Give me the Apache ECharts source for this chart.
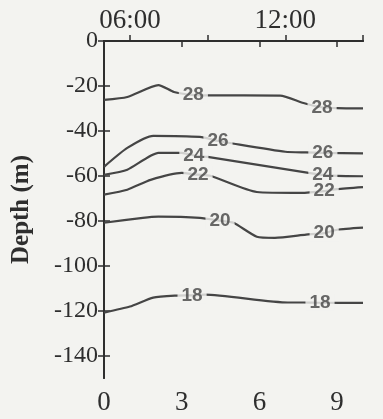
<!DOCTYPE html>
<html>
<head>
<meta charset="utf-8">
<script src="https://cdn.jsdelivr.net/npm/echarts@6/dist/echarts.min.js"></script>
<style>
html,body{margin:0;padding:0;background:#f3f3f0;}
#c{width:383px;height:419px;}
</style>
</head>
<body>
<div id="c"></div>
<script>
// Isotherm names (°C)
const isoNames = ['28', '26', '24', '22', '20', '18'];
// Each isotherm: [time index, depth (m)]
const iso28 = [[0,-26.2],[0.9,-24.9],[2.1,-19.6],[2.7,-22.7],[3.4,-24],[4,-24.2],[6.8,-24.3],[7.7,-27.6],[8.4,-29.5],[9,-29.9],[10,-30]];
const iso26 = [[0,-56],[0.9,-47.6],[1.9,-42.2],[3.7,-42.7],[4.4,-44.5],[4.8,-45.3],[7.0,-49.3],[7.8,-49.6],[8.45,-49.8],[10,-50]];
const iso24 = [[0,-59.6],[0.9,-57.3],[2.1,-49.8],[3.0,-49.8],[3.5,-51],[4.0,-51.6],[7.9,-58.7],[8.45,-59.6],[9,-60],[10,-60.2]];
const iso22 = [[0,-68.4],[0.9,-66.2],[1.8,-61.8],[3.0,-58.7],[3.6,-59.5],[4.1,-60],[5.9,-67.2],[7.6,-67.6],[8.5,-66.8],[9,-65.9],[10,-65]];
const iso20 = [[0,-80.9],[1.5,-78.7],[2.1,-78.2],[3.7,-78.7],[4.5,-80],[5.0,-80.9],[5.9,-87.1],[6.6,-87.6],[7.8,-86.2],[8.5,-85.5],[9.0,-84],[10,-83.1]];
const iso18 = [[0,-120.9],[1.0,-118.2],[1.9,-114.2],[2.8,-113.3],[3.4,-113.2],[3.9,-112.9],[7.1,-116.4],[7.7,-116.4],[8.3,-116.5],[10,-116.6]];
// x positions of the inline labels on each isotherm
const labelX28 = [3.45, 8.42];
const labelX26 = [4.4, 8.45];
const labelX24 = [3.47, 8.45];
const labelX22 = [3.63, 8.5];
const labelX20 = [4.48, 8.5];
const labelX18 = [3.4, 8.34];
// Axis ticks
const bottomTicks = [0, 3, 6, 9];
const topTicks = [1, 4, 7, 10];
const topTickLabels = {1: '06:00', 7: '12:00'};
const depthTicks = [0, -20, -40, -60, -80, -100, -120, -140];

const lines = [iso28, iso26, iso24, iso22, iso20, iso18];
const labelXs = [labelX28, labelX26, labelX24, labelX22, labelX20, labelX18];

function interp(line, x) {
  for (let i = 0; i < line.length - 1; i++) {
    const a = line[i], b = line[i + 1];
    if (x >= a[0] && x <= b[0]) {
      const t = (x - a[0]) / (b[0] - a[0]);
      return a[1] + t * (b[1] - a[1]);
    }
  }
  return line[line.length - 1][1];
}

const BG = '#f3f3f0';
const LINE = '#454545';
const serif = '"Liberation Serif", "Times New Roman", serif';

const series = [];
lines.forEach((ln, i) => {
  series.push({
    type: 'line', data: ln, showSymbol: false, smooth: 0.2,
    lineStyle: {color: LINE, width: 2.2}, z: 2, silent: true
  });
});
const labelData = [];
lines.forEach((ln, i) => {
  labelXs[i].forEach(x => labelData.push({value: [x, interp(ln, x)], name: isoNames[i]}));
});
series.push({
  type: 'scatter', data: labelData, symbolSize: 1, itemStyle: {color: 'rgba(0,0,0,0)'}, z: 5,
  label: {
    show: true, position: 'inside', formatter: p => p.name,
    fontFamily: '"Liberation Sans", Arial, sans-serif', fontWeight: 'bold', fontSize: 19,
    color: '#444', backgroundColor: BG, padding: [0, 4], lineHeight: 16
  }
});

const axisLineStyle = {color: '#2e2e2e', width: 2};
const chart = echarts.init(document.getElementById('c'));
chart.setOption({
  backgroundColor: BG,
  animation: false,
  grid: {left: 104, right: 20, top: 41, bottom: 41, containLabel: false},
  xAxis: [
    {
      type: 'value', position: 'bottom', min: 0, max: 10,
      axisLine: {show: true, lineStyle: axisLineStyle},
      axisTick: {show: true, length: 6, lineStyle: {color: '#2e2e2e', width: 1.5}, customValues: bottomTicks},
      axisLabel: {customValues: bottomTicks, fontFamily: serif, fontSize: 27, color: '#2e2e2e', margin: 11},
      splitLine: {show: false}
    },
    {
      type: 'value', position: 'top', min: 0, max: 10,
      axisLine: {show: true, lineStyle: axisLineStyle},
      axisTick: {show: true, length: 6, lineStyle: {color: '#2e2e2e', width: 1.5}, customValues: topTicks},
      axisLabel: {customValues: [1, 7], formatter: v => topTickLabels[v] || '', fontFamily: serif, fontSize: 27, color: '#2e2e2e', margin: 7},
      splitLine: {show: false}
    }
  ],
  yAxis: [
    {
      type: 'value', position: 'left', min: -150, max: 0,
      name: 'Depth (m)', nameLocation: 'middle', nameGap: 70, nameRotate: 90,
      nameTextStyle: {fontFamily: serif, fontWeight: 'bold', fontSize: 25, color: '#2e2e2e'},
      axisLine: {show: true, lineStyle: axisLineStyle},
      axisTick: {show: true, length: 6, lineStyle: {color: '#2e2e2e', width: 1.5}, customValues: depthTicks},
      axisLabel: {customValues: depthTicks, fontFamily: serif, fontSize: 24, color: '#2e2e2e', margin: 6},
      splitLine: {show: false}
    },
    {
      type: 'value', position: 'right', min: -150, max: 0,
      axisLine: {show: true, lineStyle: axisLineStyle},
      axisTick: {show: true, length: 6, lineStyle: {color: '#2e2e2e', width: 1.5}, customValues: depthTicks.slice(1)},
      axisLabel: {show: false},
      splitLine: {show: false}
    }
  ],
  series: series
});
</script>
</body>
</html>
